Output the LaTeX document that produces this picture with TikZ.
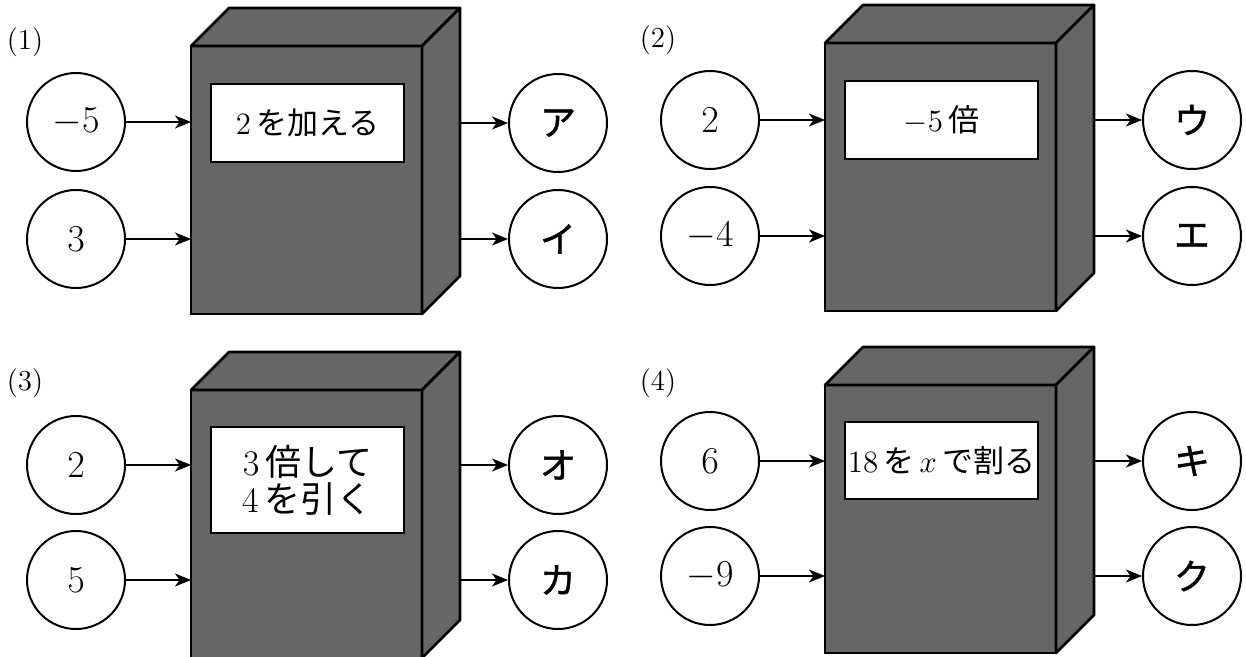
\RequirePackage{fix-cm}
\documentclass[tikz,border=0pt]{standalone}
\usepackage{fontspec}
\newfontfamily\jp{Noto Sans CJK JP}
\newfontfamily\jpk[FakeBold=1.2]{Noto Sans CJK JP}
\usetikzlibrary{arrows.meta,calc}
\definecolor{boxgray}{RGB}{102,102,102}
\tikzset{
  ball/.style={circle,draw,line width=1pt,minimum size=49pt,inner sep=0pt,font=\fontsize{19}{22}\selectfont},
  kana/.style={ball,font=\fontsize{18}{20}\selectfont\jpk},
  frontbox/.style={rectangle,draw,fill=boxgray,line width=1.35pt,minimum width=115.5pt,minimum height=134pt,inner sep=0pt,outer sep=0pt,anchor=north west},
  face/.style={draw,fill=boxgray,line width=1.35pt,line join=round},
  labelbox/.style={rectangle,draw,fill=white,line width=1.2pt,minimum width=96.5pt,inner sep=0pt,font=\fontsize{15.5}{18}\selectfont\jp},
  arr/.style={line width=1pt,-{Stealth[length=8pt,width=6.5pt,inset=2.3pt]}},
  plabel/.style={font=\fontsize{14.5}{16}\selectfont}
}
\newcommand\machinebox[3]{%
  \node[frontbox] (#1) at (#2,#3) {};
  \draw[face] (#1.north west) -- ++(38,-38) -- ++(231,0) -- (#1.north east) -- cycle;
  \draw[face] (#1.north east) -- ++(38,-38) -- ++(0,268) -- (#1.south east) -- cycle;
  \coordinate (#1back) at ([shift={(38,0)}]#1.north east);
}
\begin{document}
\begin{tikzpicture}[x=0.5pt,y=-0.5pt]
\useasboundingbox (0,0) rectangle (1246,657);
% ---------- panel 1
\node[plabel] (n1) at (25,42) {(1)};
\machinebox{b1}{191}{46}
\node[labelbox,minimum height=39pt] (l1) at (307.5,123) {$2$\,を加える};
\node[ball] (a1) at (76,122) {$-5$};
\node[ball] (a2) at (76,239) {$3$};
\node[kana] (c1) at (558,123) {ア};
\node[kana] (c2) at (558,239) {イ};
\draw[arr] (a1) -- (a1 -| b1.west);
\draw[arr] (a2) -- (a2 -| b1.west);
\draw[arr] (c1 -| b1back) -- (c1);
\draw[arr] (c2 -| b1back) -- (c2);
% ---------- panel 2
\node[plabel] (n2) at (658,40) {(2)};
\machinebox{b2}{825}{43}
\node[labelbox,minimum height=39pt] (l2) at (941.5,120) {$-5$\,倍\hspace{13pt}};
\node[ball] (d1) at (710,120) {$2$};
\node[ball] (d2) at (710,236) {$-4$};
\node[kana] (e1) at (1192,120) {ウ};
\node[kana] (e2) at (1192,236) {エ};
\draw[arr] (d1) -- (d1 -| b2.west);
\draw[arr] (d2) -- (d2 -| b2.west);
\draw[arr] (e1 -| b2back) -- (e1);
\draw[arr] (e2 -| b2back) -- (e2);
% ---------- panel 3
\node[plabel] (n3) at (25,383) {(3)};
\machinebox{b3}{191}{390}
\node[labelbox,minimum height=53pt,align=center,font=\fontsize{18}{18.5}\selectfont\jp] (l3) at (307.5,480) {$3$\,倍して\\$4$\,を引く};
\node[ball] (f1) at (76,465) {$2$};
\node[ball] (f2) at (76,580) {$5$};
\node[kana] (g1) at (558,465) {オ};
\node[kana] (g2) at (558,580) {カ};
\draw[arr] (f1) -- (f1 -| b3.west);
\draw[arr] (f2) -- (f2 -| b3.west);
\draw[arr] (g1 -| b3back) -- (g1);
\draw[arr] (g2 -| b3back) -- (g2);
% ---------- panel 4
\node[plabel] (n4) at (658,383) {(4)};
\machinebox{b4}{825}{385}
\node[labelbox,minimum height=38.5pt] (l4) at (941.5,460.5) {$18$\,を\,$x$\,で割る};
\node[ball] (h1) at (710,461) {$6$};
\node[ball] (h2) at (710,576) {$-9$};
\node[kana] (k1) at (1192,461) {キ};
\node[kana] (k2) at (1192,576) {ク};
\draw[arr] (h1) -- (h1 -| b4.west);
\draw[arr] (h2) -- (h2 -| b4.west);
\draw[arr] (k1 -| b4back) -- (k1);
\draw[arr] (k2 -| b4back) -- (k2);
\end{tikzpicture}
\end{document}
